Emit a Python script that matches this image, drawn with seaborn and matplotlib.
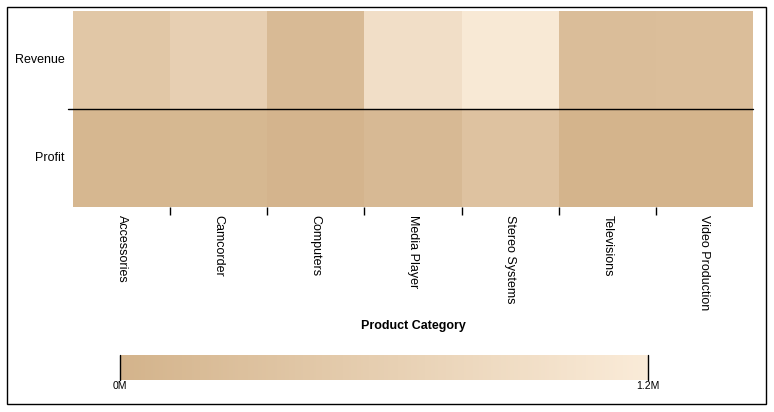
import numpy as np
import pandas as pd
import seaborn as sns
import matplotlib.pyplot as plt
from matplotlib.colors import LinearSegmentedColormap
from matplotlib.patches import Rectangle

# Data (values in dollars)
categories = ['Accessories', 'Camcorder', 'Computers', 'Media Player',
              'Stereo Systems', 'Televisions', 'Video Production']
revenue = [420000, 600000, 150000, 930000, 1150000, 220000, 240000]
profit = [80000, 100000, 30000, 140000, 330000, 20000, 20000]
metrics = ['Revenue', 'Profit']
cbar_range = [0, 1200000]

df = pd.DataFrame([revenue, profit], index=metrics, columns=categories)

sns.set_style('white', {'text.color': 'black', 'xtick.color': 'black',
                        'ytick.color': 'black', 'axes.labelcolor': 'black'})
plt.rcParams['font.family'] = ['Liberation Sans', 'DejaVu Sans']

cmap = LinearSegmentedColormap.from_list('tan_white', ['#d3b38b', '#faebd8'])

fig = plt.figure(figsize=(7.74, 4.12), dpi=100)
ax = fig.add_axes([0.0943, 0.4976, 0.8786, 0.4757])
cax = fig.add_axes([0.155, 0.0777, 0.682, 0.0607])

sns.heatmap(df, ax=ax, cmap=cmap, vmin=cbar_range[0], vmax=cbar_range[1],
            cbar=True, cbar_ax=cax, cbar_kws={'orientation': 'horizontal'}, linewidths=0)

# row divider
ax.axhline(1, xmin=-5 / 680, xmax=1, color='black', lw=1, clip_on=False)

# y labels
ax.set_ylabel('')
ax.set_yticklabels(metrics, rotation=0, fontsize=9, color='black')
ax.tick_params(axis='y', length=0, pad=6)

# x labels at centres, tick marks at cell boundaries
ax.set_xticklabels(categories, rotation=-90, fontsize=9, va='top', color='black')
ax.tick_params(axis='x', which='major', length=0, pad=6)
ax.set_xticks(np.arange(1, len(categories)), minor=True)
ax.tick_params(axis='x', which='minor', length=6, width=1, color='black', bottom=True)
ax.set_xlabel('Product Category', fontsize=9, fontweight='bold', color='black',
              family=['Liberation Sans Narrow', 'Liberation Sans'], labelpad=7)

# colour bar
cbar = ax.collections[0].colorbar
cbar.outline.set_visible(False)
cbar.set_ticks(cbar_range)
cbar.set_ticklabels(['0M', '1.2M'])
cax.xaxis.set_ticks_position('bottom')
cax.tick_params(axis='x', length=0, labelsize=7.5, labelcolor='black', pad=1)
for v in cbar_range:
    cax.axvline(v, color='black', lw=1, zorder=5, clip_on=False)

# frame around the whole picture
fig.patches.append(Rectangle((0.009, 0.0194), 0.9806, 0.9636, transform=fig.transFigure,
                             fill=False, edgecolor='black', lw=1))

fig.savefig('out.png', dpi=100)
